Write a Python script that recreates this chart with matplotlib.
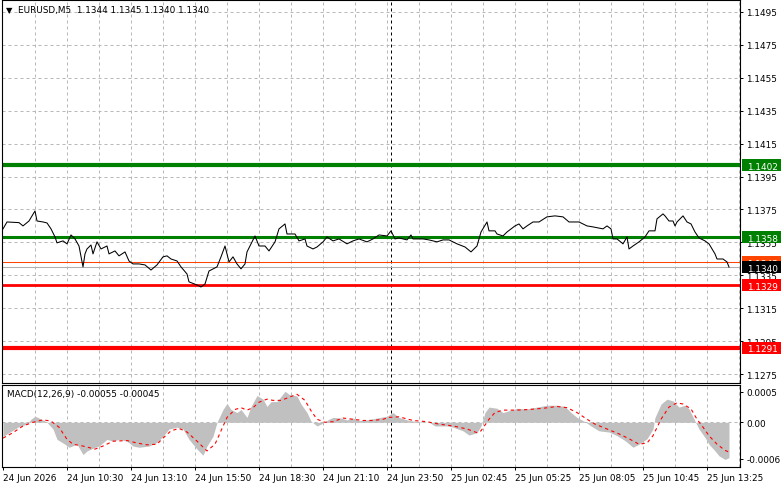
import matplotlib
matplotlib.use("Agg")
import matplotlib.pyplot as plt
from matplotlib.patches import Rectangle
from matplotlib.transforms import blended_transform_factory

plt.rcParams["font.family"] = ["DejaVu Sans"]
FS = 6.4

header = "EURUSD,M5  1.1344 1.1345 1.1340 1.1340"
macd_title = "MACD(12,26,9) -0.00055 -0.00045"

# close prices (x = M5 bar number)
bar_idx = [0, 2, 8, 10, 13, 16, 17, 20, 22, 24, 26, 27, 30, 32, 34, 36, 38, 40, 41, 42,
           44, 45, 47, 49, 52, 53, 56, 58, 61, 63, 65, 68, 71, 74, 77, 80, 82, 84, 87, 89,
           92, 93, 97, 99, 101, 103, 107, 109, 111, 113, 115, 117, 119, 121, 122, 126, 128, 131, 133, 136,
           138, 141, 142, 146, 148, 151, 152, 155, 157, 160, 162, 165, 168, 172, 175, 178, 182, 185, 188, 192,
           194, 196, 198, 202, 204, 205, 210, 213, 217, 220, 223, 227, 231, 234, 237, 239, 242, 243, 246, 247,
           250, 252, 256, 258, 260, 262, 265, 268, 272, 276, 280, 283, 288, 292, 295, 300, 302, 304, 305, 307,
           310, 312, 313, 315, 318, 321, 323, 326, 327, 330, 331, 333, 335, 336, 337, 340, 342, 344, 346, 348,
           351, 353, 356, 357, 360, 362, 363]
close = [1.13632, 1.13674, 1.13670, 1.13650, 1.13680, 1.13741, 1.13680, 1.13674, 1.13668, 1.13632,
         1.13583, 1.13547, 1.13559, 1.13541, 1.13595, 1.13571, 1.13528, 1.13401, 1.13480, 1.13510,
         1.13534, 1.13480, 1.13553, 1.13510, 1.13528, 1.13480, 1.13498, 1.13468, 1.13492, 1.13437,
         1.13419, 1.13419, 1.13413, 1.13382, 1.13413, 1.13462, 1.13468, 1.13449, 1.13437, 1.13401,
         1.13358, 1.13310, 1.13291, 1.13279, 1.13297, 1.13376, 1.13401, 1.13462, 1.13528, 1.13431,
         1.13462, 1.13419, 1.13389, 1.13419, 1.13492, 1.13589, 1.13528, 1.13528, 1.13498, 1.13553,
         1.13632, 1.13662, 1.13601, 1.13601, 1.13559, 1.13571, 1.13528, 1.13510, 1.13522, 1.13553,
         1.13583, 1.13559, 1.13571, 1.13541, 1.13559, 1.13571, 1.13553, 1.13571, 1.13595, 1.13589,
         1.13620, 1.13571, 1.13577, 1.13565, 1.13595, 1.13571, 1.13571, 1.13565, 1.13553, 1.13565,
         1.13565, 1.13541, 1.13522, 1.13492, 1.13528, 1.13613, 1.13674, 1.13620, 1.13620, 1.13601,
         1.13589, 1.13613, 1.13650, 1.13662, 1.13632, 1.13650, 1.13674, 1.13674, 1.13705, 1.13711,
         1.13705, 1.13674, 1.13674, 1.13650, 1.13644, 1.13632, 1.13650, 1.13632, 1.13571, 1.13571,
         1.13541, 1.13583, 1.13510, 1.13528, 1.13553, 1.13583, 1.13620, 1.13620, 1.13693, 1.13723,
         1.13711, 1.13680, 1.13680, 1.13650, 1.13674, 1.13711, 1.13674, 1.13662, 1.13613, 1.13577,
         1.13559, 1.13541, 1.13480, 1.13449, 1.13449, 1.13431, 1.13400]

# MACD main (histogram)
hist_idx = [0, 4, 8, 12, 14, 16, 20, 22, 25, 27, 31, 33, 37, 40, 42, 46, 48, 52, 55, 58,
            62, 65, 68, 73, 77, 80, 83, 87, 90, 93, 97, 100, 102, 105, 107, 110, 112, 114, 117, 119,
            122, 124, 127, 130, 132, 134, 137, 141, 143, 147, 149, 152, 154, 157, 159, 163, 165, 169, 172, 175,
            178, 182, 187, 192, 195, 198, 203, 208, 213, 216, 222, 225, 230, 233, 237, 239, 241, 243, 247, 250,
            253, 257, 262, 267, 272, 277, 281, 284, 287, 291, 294, 298, 303, 307, 311, 315, 318, 322, 325, 326,
            329, 332, 335, 338, 341, 343, 346, 348, 351, 353, 356, 358, 361, 363]
macd_hist = [-0.00023, -0.00015, -0.00007, -0.00003, 0.00005, 0.00010, 0.00004, 0.0, -0.00011, -0.00028,
             -0.00036, -0.00041, -0.00036, -0.00053, -0.00047, -0.00041, -0.00039, -0.00028, -0.00031, -0.00028,
             -0.00031, -0.00039, -0.00041, -0.00039, -0.00033, -0.00023, -0.00011, -0.00008, -0.00011, -0.00028,
             -0.00044, -0.00054, -0.00039, -0.00023, 0.0, 0.00021, 0.00031, 0.00021, 0.00016, 0.00021,
             0.00008, 0.00026, 0.00044, 0.00038, 0.00026, 0.00034, 0.00034, 0.00051, 0.00046, 0.00043,
             0.00030, 0.00016, 0.00002, -0.00006, -0.00003, 0.00005, 0.00008, 0.00007, 0.00004, 0.00007,
             0.00003, 0.00004, 0.00007, 0.00010, 0.00016, 0.00008, 0.00003, 0.00001, 0.0, -0.00006,
             -0.00006, -0.00008, -0.00014, -0.00021, -0.00017, -0.00006, 0.00016, 0.00025, 0.00023, 0.00016,
             0.00019, 0.00023, 0.00022, 0.00025, 0.00028, 0.00028, 0.00026, 0.00016, 0.00008, 0.00001,
             -0.00006, -0.00014, -0.00016, -0.00022, -0.00030, -0.00041, -0.00036, -0.00027, -0.00011, 0.00008,
             0.00030, 0.00038, 0.00035, 0.00025, 0.00028, 0.00022, 0.00002, -0.00011, -0.00025, -0.00036,
             -0.00047, -0.00055, -0.00061, -0.00058]

# MACD signal line
sig_idx = [0, 5, 10, 15, 20, 24, 28, 32, 35, 40, 46, 50, 55, 62, 67, 72, 77, 80, 84, 88,
           92, 97, 102, 106, 109, 112, 116, 119, 122, 125, 128, 132, 135, 139, 143, 147, 151, 154, 157, 161,
           165, 170, 175, 180, 185, 190, 193, 198, 205, 212, 218, 225, 232, 237, 239, 243, 246, 250, 257, 263,
           270, 277, 282, 287, 292, 296, 302, 308, 313, 318, 322, 325, 329, 333, 337, 340, 344, 347, 350, 353,
           357, 361, 363]
macd_signal = [-0.00026, -0.00017, -0.00006, 0.0, 0.00004, 0.00002, -0.00008, -0.00028, -0.00036, -0.00039,
               -0.00044, -0.00039, -0.00031, -0.00030, -0.00034, -0.00037, -0.00036, -0.00026, -0.00014, -0.00010,
               -0.00016, -0.00031, -0.00047, -0.00036, -0.00014, 0.00008, 0.00021, 0.00024, 0.00020, 0.00024,
               0.00033, 0.00038, 0.00036, 0.00036, 0.00041, 0.00046, 0.00036, 0.00019, 0.00005, 0.0,
               0.00001, 0.00007, 0.00005, 0.00003, 0.00003, 0.00005, 0.00008, 0.00009, 0.00003, 0.00001,
               -0.00003, -0.00006, -0.00011, -0.00017, -0.00014, 0.00005, 0.00016, 0.00020, 0.00020, 0.00021,
               0.00023, 0.00026, 0.00024, 0.00016, 0.00005, -0.00003, -0.00011, -0.00019, -0.00027, -0.00036,
               -0.00034, -0.00022, 0.00005, 0.00025, 0.00032, 0.00030, 0.00022, 0.00005, -0.00008, -0.00022,
               -0.00036, -0.00046, -0.00049]

time_labels = ["24 Jun 2026", "24 Jun 10:30", "24 Jun 13:10", "24 Jun 15:50", "24 Jun 18:30",
               "24 Jun 21:10", "24 Jun 23:50", "25 Jun 02:45", "25 Jun 05:25", "25 Jun 08:05",
               "25 Jun 10:45", "25 Jun 13:25"]
time_ticks = [0, 32, 64, 96, 128, 160, 192, 224, 256, 288, 320, 352]
day_break = 194

price_ticks = [1.1495, 1.1475, 1.1455, 1.1435, 1.1415, 1.1395, 1.1375, 1.1355,
               1.1335, 1.1315, 1.1295, 1.1275]
macd_ticks = [0.0005, 0.0, -0.0006]
macd_tick_labels = ["0.0005", "0.00", "-0.0006"]

levels = [1.1402, 1.1358, 1.1329, 1.1291]
level_colors = ["#008000", "#008000", "#ff0000", "#ff0000"]
level_widths = [3.0, 2.2, 2.0, 3.0]
ask = 1.1343
bid = 1.1340

assert len(bar_idx) == len(close)
assert len(hist_idx) == len(macd_hist)
assert len(sig_idx) == len(macd_signal)

# layout in pixels
W, H = 781, 489
PX = 1 / 16455.0          # price per pixel
MPX = 1 / 60900.0         # macd per pixel
GRID = "#b8b8b8"


def rect(top, bot):
    return [2 / W, 1 - bot / H, 738 / W, (bot - top) / H]


fig = plt.figure(figsize=(W / 100, H / 100), dpi=100)
fig.patch.set_facecolor("white")
ax = fig.add_axes(rect(0.5, 384))
ax2 = fig.add_axes(rect(386, 468))

for a in (ax, ax2):
    a.set_xlim(-0.5, 368.5)
    for s in a.spines.values():
        s.set_linewidth(0.8)
        s.set_color("black")
    for i in range(16, 369, 16):
        a.axvline(i, color=GRID, lw=0.72, dashes=(3, 3), zorder=0.5)
    a.axvline(day_break, color="black", lw=0.72, dashes=(3, 3), zorder=0.6)
    a.yaxis.tick_right()
    a.tick_params(axis="y", direction="out", length=2.2, width=0.7, pad=2.5,
                  labelsize=FS, colors="black")

# ---- price panel
ax.set_ylim(1.1495 - (384 - 13) * PX, 1.1495 + (13 - 0.5) * PX)
ax.set_xticks([])
ax.set_yticks(price_ticks)
ax.set_yticklabels([f"{p:.4f}" for p in price_ticks])
for p in price_ticks:
    ax.axhline(p, color=GRID, lw=0.72, dashes=(3, 3), zorder=0.5)

ax.axhline(ask, color="#ff4500", lw=0.75, zorder=1)
ax.axhline(bid, color="#b0b0b0", lw=0.75, zorder=1)
for lv, c, w in zip(levels, level_colors, level_widths):
    ax.axhline(lv, color=c, lw=w, zorder=2)

ax.plot(bar_idx, close, color="black", lw=0.75, zorder=3)

tr = blended_transform_factory(ax.transAxes, ax.transData)
hh = 6 * PX
tags = [(levels[0], "#008000"), (levels[1], "#008000"), (ask, "#ff4500"),
        (bid, "#000000"), (levels[2], "#ff0000"), (levels[3], "#ff0000")]
for k, (p, c) in enumerate(tags):
    ax.add_patch(Rectangle((1.0027, p - hh), 0.0528, 2 * hh, transform=tr,
                           facecolor=c, edgecolor="none", clip_on=False, zorder=5 + k))
    ax.text(1.0095, p, f"{p:.4f}", transform=tr, ha="left", va="center_baseline",
            color="white", fontsize=FS, clip_on=False, zorder=5.5 + k)

ax.text(4 / 738, 1 - 10 / 383.5, "▼", transform=ax.transAxes, fontsize=6,
        ha="left", va="center")
ax.text(16 / 738, 1 - 10.5 / 383.5, header, transform=ax.transAxes, fontsize=FS,
        ha="left", va="center")

# ---- MACD panel
ax2.set_ylim(-(468 - 423.3) * MPX, (423.3 - 386) * MPX)
ax2.axhline(0, color=GRID, lw=0.72, dashes=(3, 3), zorder=0.5)
ax2.fill_between(hist_idx, macd_hist, 0, color="#c0c0c0", lw=0, zorder=1)
ax2.plot(sig_idx, macd_signal, color="red", lw=0.8, dashes=(3, 3), zorder=2)
ax2.set_yticks(macd_ticks)
ax2.set_yticklabels(macd_tick_labels)
ax2.set_xticks(time_ticks)
ax2.set_xticklabels(time_labels)
ax2.tick_params(axis="x", direction="out", length=2.2, width=0.7, pad=2,
                labelsize=FS, colors="black")
for lab in ax2.get_xticklabels():
    lab.set_ha("left")
ax2.text(5 / 738, 1 - 9 / 82, macd_title, transform=ax2.transAxes, fontsize=FS,
         ha="left", va="center")

fig.savefig("out.png", dpi=100, facecolor="white")
